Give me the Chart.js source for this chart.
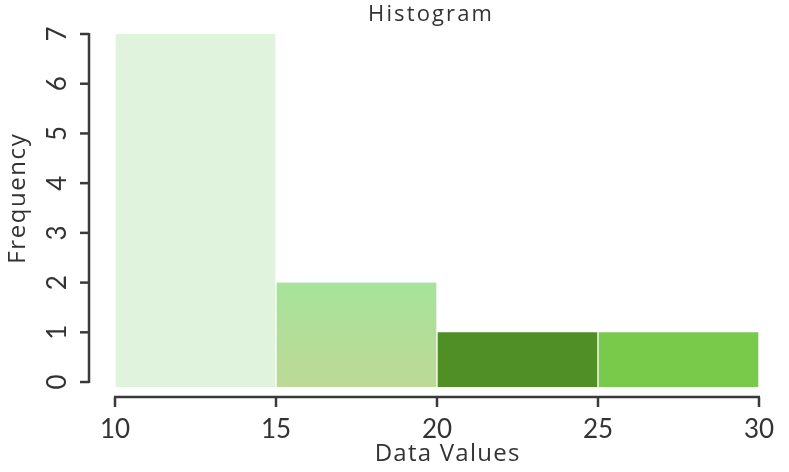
<!DOCTYPE html>
<html>
<head>
<meta charset="utf-8">
<script src="https://cdn.jsdelivr.net/npm/chart.js@4.4.0/dist/chart.umd.min.js"></script>
<style>
  html, body { margin: 0; padding: 0; background: #ffffff; }
  #wrap { width: 789px; height: 472px; position: relative; }
</style>
</head>
<body>
<div id="wrap"><canvas id="c"></canvas></div>
<script>
// ---- data ----
const binStarts = [10, 15, 20, 25];
const binWidth = 5;
const frequencies = [7, 2, 1, 1];
const xTicks = [10, 15, 20, 25, 30];
const yTicks = [0, 1, 2, 3, 4, 5, 6, 7];
const chartTitle = 'Histogram';
const xTitle = 'Data Values';
const yTitle = 'Frequency';

const barColors = ['#e0f3dc', '#ace29c', '#4f8f25', '#79c94b'];
const FONT = '"Open Sans", Lato, sans-serif';
const NUMFONT = 'Lato, "Open Sans", sans-serif';
const TEXT = '#333333';
const AXIS = '#3a3a3a';

const points = binStarts.map((s, i) => ({ x: s + binWidth / 2, y: frequencies[i] }));

function spacedText(ctx, text, x, y, targetWidth) {
  ctx.letterSpacing = '0px';
  const w = ctx.measureText(text).width;
  const sp = Math.max(0, (targetWidth - w) / text.length);
  ctx.letterSpacing = sp.toFixed(2) + 'px';
  ctx.fillText(text, x + sp / 2, y);
  ctx.letterSpacing = '0px';
}

const axesPlugin = {
  id: 'detachedAxes',
  afterDraw(chart) {
    const ctx = chart.ctx;
    const xs = chart.scales.x, ys = chart.scales.y;
    ctx.save();
    ctx.strokeStyle = AXIS;
    ctx.lineWidth = 2.5;
    ctx.lineCap = 'butt';
    // y axis
    const yAxisX = 89;
    const yTop = ys.getPixelForValue(yTicks[yTicks.length - 1]);
    const yBot = ys.getPixelForValue(yTicks[0]);
    ctx.beginPath();
    ctx.moveTo(yAxisX, yTop - 1);
    ctx.lineTo(yAxisX, yBot + 1);
    ctx.stroke();
    ctx.fillStyle = TEXT;
    ctx.font = '26px ' + NUMFONT;
    yTicks.forEach(v => {
      const py = ys.getPixelForValue(v);
      ctx.beginPath();
      ctx.moveTo(yAxisX, py);
      ctx.lineTo(yAxisX - 9, py);
      ctx.stroke();
      ctx.save();
      ctx.translate(58, py);
      ctx.rotate(-Math.PI / 2);
      ctx.textAlign = 'center';
      ctx.textBaseline = 'middle';
      ctx.fillText(String(v), 0, 0);
      ctx.restore();
    });
    // x axis
    const xAxisY = 397;
    const xL = xs.getPixelForValue(xTicks[0]);
    const xR = xs.getPixelForValue(xTicks[xTicks.length - 1]);
    ctx.beginPath();
    ctx.moveTo(xL - 1, xAxisY);
    ctx.lineTo(xR + 1, xAxisY);
    ctx.stroke();
    ctx.font = '26px ' + NUMFONT;
    xTicks.forEach(v => {
      const px = xs.getPixelForValue(v);
      ctx.beginPath();
      ctx.moveTo(px, xAxisY);
      ctx.lineTo(px, xAxisY + 10);
      ctx.stroke();
      ctx.textAlign = 'center';
      ctx.textBaseline = 'middle';
      spacedText(ctx, String(v), px, 430, 30);
    });
    // titles
    ctx.font = '24px ' + FONT;
    ctx.textAlign = 'center';
    ctx.textBaseline = 'middle';
    spacedText(ctx, xTitle, 447, 454, 146);
    ctx.save();
    ctx.translate(18, 199);
    ctx.rotate(-Math.PI / 2);
    spacedText(ctx, yTitle, 0, 0, 131);
    ctx.restore();
    ctx.font = '22px ' + FONT;
    spacedText(ctx, chartTitle, 430, 15, 126);
    ctx.restore();
  }
};

new Chart(document.getElementById('c'), {
  type: 'bar',
  data: {
    datasets: [{
      label: yTitle,
      data: points,
      base: -0.1,
      backgroundColor: (c) => {
        const i = c.dataIndex;
        const chart = c.chart;
        if (i === 1 && chart.chartArea) {
          const g = chart.ctx.createLinearGradient(0, chart.scales.y.getPixelForValue(2), 0, chart.scales.y.getPixelForValue(0));
          g.addColorStop(0, '#a6e39a');
          g.addColorStop(1, '#bcd996');
          return g;
        }
        return barColors[i];
      },
      borderColor: '#ffffff',
      borderWidth: { left: 1, right: 1 },
      borderSkipped: false,
      barPercentage: 1,
      categoryPercentage: 1
    }]
  },
  options: {
    responsive: true,
    maintainAspectRatio: false,
    animation: false,
    layout: { padding: { left: 115, right: 30, top: 34, bottom: 85 } },
    plugins: {
      legend: { display: false },
      title: { display: false },
      tooltip: { enabled: false }
    },
    scales: {
      x: {
        type: 'linear',
        min: 10, max: 30,
        offset: false,
        display: false,
        ticks: { stepSize: 5 }
      },
      y: {
        min: -0.1, max: 7,
        display: false,
        ticks: { stepSize: 1 }
      }
    }
  },
  plugins: [axesPlugin]
});
</script>
</body>
</html>
